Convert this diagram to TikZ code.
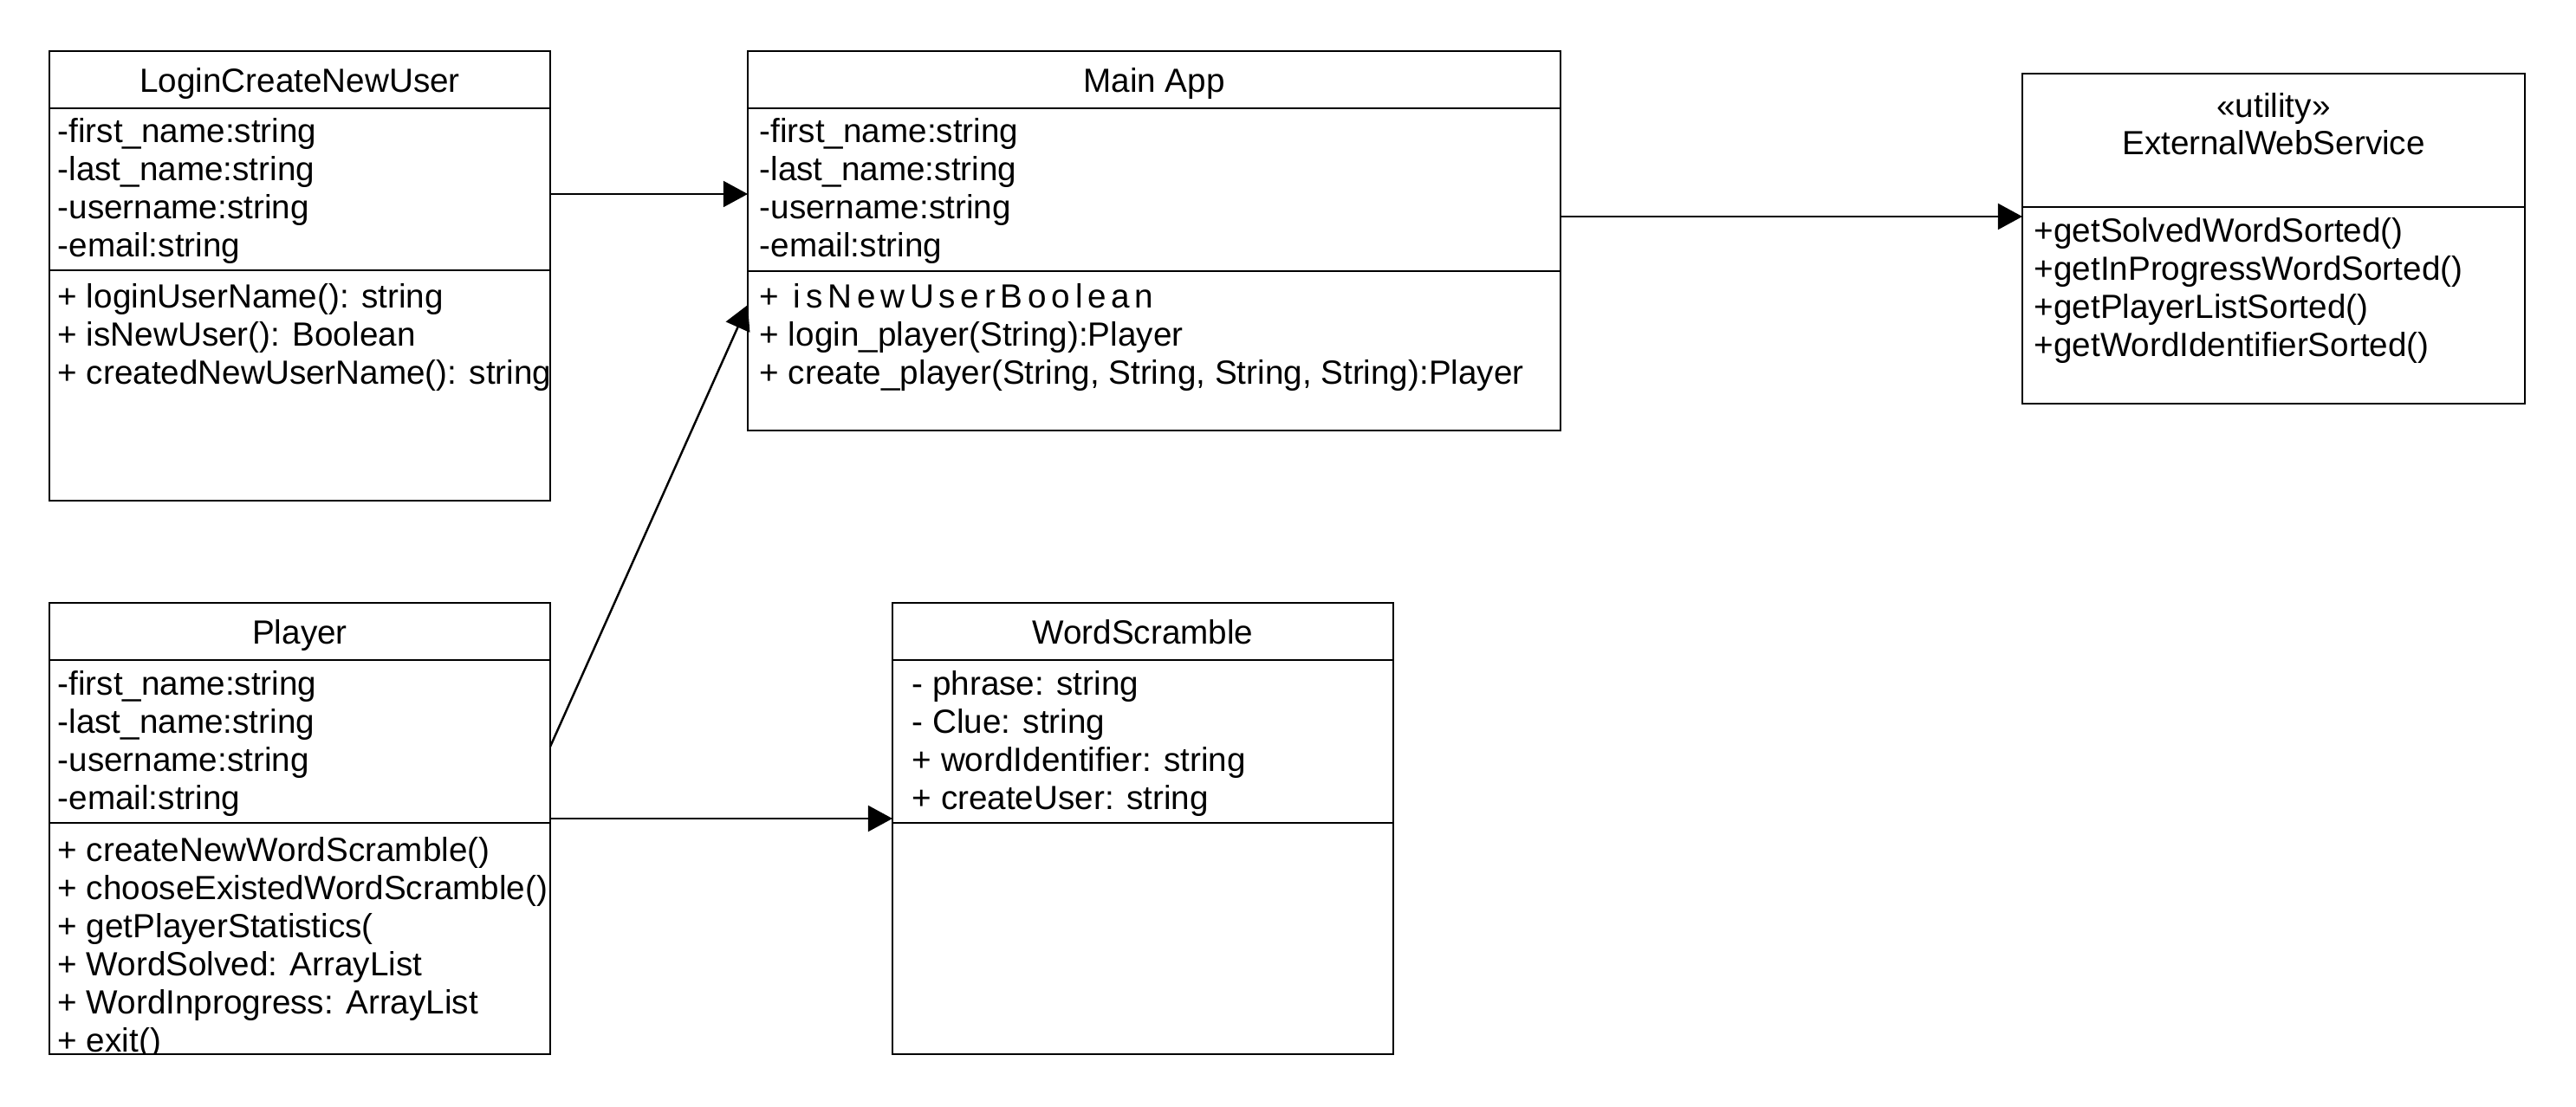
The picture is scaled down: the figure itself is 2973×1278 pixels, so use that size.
\documentclass[tikz,border=0pt]{standalone}
\usepackage{fontspec}
\setmainfont{Liberation Sans}
\usetikzlibrary{arrows.meta}

\tikzset{
  classbox/.style={draw, line width=0.7pt, inner sep=0pt, outer sep=0pt, anchor=north west},
  sepline/.style={line width=0.7pt},
  row/.style={anchor=base west, inner sep=0pt},
  cname/.style={anchor=base, inner sep=0pt},
  assoc/.style={line width=0.7pt, -{Triangle[length=8pt,width=8.5pt]}}
}

\begin{document}
\begin{tikzpicture}[x=0.1mm,y=-0.1mm,font=\fontsize{11pt}{13pt}\selectfont]
\useasboundingbox (0,0) rectangle (2973,1278);

% class boxes
\node[classbox,minimum width=57.8mm,minimum height=51.9mm] (login) at (57,59) {};
\node[classbox,minimum width=93.8mm,minimum height=43.8mm] (mainapp) at (863,59) {};
\node[classbox,minimum width=58mm,minimum height=38.1mm] (websvc) at (2334,85) {};
\node[classbox,minimum width=57.8mm,minimum height=52.1mm] (player) at (57,696) {};
\node[classbox,minimum width=57.8mm,minimum height=52.1mm] (scramble) at (1030,696) {};

% compartments
\draw[sepline] (login.west |- 0,125) -- (login.east |- 0,125);
\draw[sepline] (login.west |- 0,312) -- (login.east |- 0,312);
\draw[sepline] (mainapp.west |- 0,125) -- (mainapp.east |- 0,125);
\draw[sepline] (mainapp.west |- 0,313) -- (mainapp.east |- 0,313);
\draw[sepline] (websvc.west |- 0,239) -- (websvc.east |- 0,239);
\draw[sepline] (player.west |- 0,762) -- (player.east |- 0,762);
\draw[sepline] (player.west |- 0,950) -- (player.east |- 0,950);
\draw[sepline] (scramble.west |- 0,762) -- (scramble.east |- 0,762);
\draw[sepline] (scramble.west |- 0,950) -- (scramble.east |- 0,950);

% LoginCreateNewUser
\begin{scope}
\clip (login.north west) rectangle (login.south east);
\node[cname] (login-t) at (346,107) {LoginCreateNewUser};
\foreach \t [count=\i] in {-first\_name:string, -last\_name:string, -username:string, -email:string}
  \node[row] (login-a\i) at (66,{165+44*(\i-1)}) {\t};
\foreach \t [count=\i] in {+ loginUserName(): string, + isNewUser(): Boolean, + createdNewUserName(): string}
  \node[row] (login-m\i) at (66,{356+44*(\i-1)}) {\t};
\end{scope}

% Main App
\node[cname] (mainapp-t) at (1332,107) {Main App};
\foreach \t [count=\i] in {-first\_name:string, -last\_name:string, -username:string, -email:string}
  \node[row] (mainapp-a\i) at (876,{165+44*(\i-1)}) {\t};
\node[row] (mainapp-m1) at (876,356) {\addfontfeatures{LetterSpace=15}+ isNewUserBoolean};
\node[row] (mainapp-m2) at (876,400) {+ login\_player(String):Player};
\node[row] (mainapp-m3) at (876,444) {+ create\_player(String, String, String, String):Player};

% ExternalWebService
\node[cname] (websvc-s) at (2624,136) {«utility»};
\node[cname] (websvc-t) at (2624,179) {ExternalWebService};
\foreach \t [count=\i] in {+getSolvedWordSorted(), +getInProgressWordSorted(), +getPlayerListSorted(), +getWordIdentifierSorted()}
  \node[row] (websvc-m\i) at (2347,{280+44*(\i-1)}) {\t};

% Player
\begin{scope}
\clip (player.north west) rectangle (player.south east);
\node[cname] (player-t) at (346,743) {Player};
\foreach \t [count=\i] in {-first\_name:string, -last\_name:string, -username:string, -email:string}
  \node[row] (player-a\i) at (66,{802+44*(\i-1)}) {\t};
\foreach \t [count=\i] in {+ createNewWordScramble(), + chooseExistedWordScramble(), + getPlayerStatistics(, + WordSolved: ArrayList, + WordInprogress: ArrayList, + exit()}
  \node[row] (player-m\i) at (66,{994+44*(\i-1)}) {\t};
\end{scope}

% WordScramble
\node[cname] (scramble-t) at (1319,743) {WordScramble};
\foreach \t [count=\i] in {- phrase: string, - Clue: string, + wordIdentifier: string, + createUser: string}
  \node[row] (scramble-a\i) at (1052,{802+44*(\i-1)}) {\t};

% associations
\draw[assoc] (login.east |- 0,224) -- (mainapp.west |- 0,224);
\draw[assoc] (mainapp.east |- 0,250) -- (websvc.west |- 0,250);
\draw[assoc] (player.east |- 0,862) -- (mainapp.west |- 0,352);
\draw[assoc] (player.east |- 0,945) -- (scramble.west |- 0,945);
\end{tikzpicture}
\end{document}
